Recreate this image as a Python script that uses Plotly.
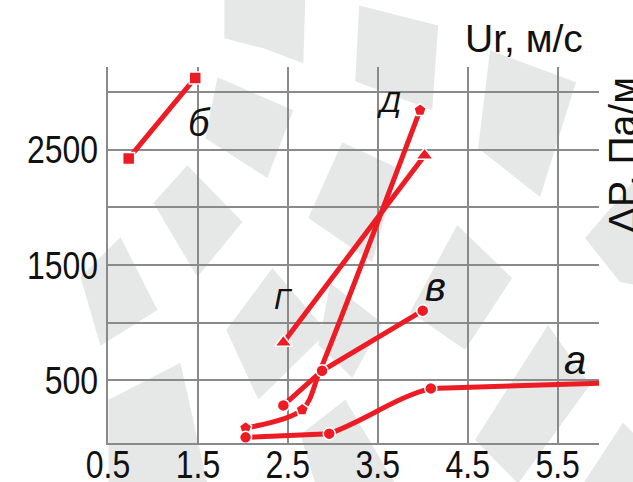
import plotly.graph_objects as go

# ---- data ---------------------------------------------------------------
# velocity Ur, m/s  vs  pressure loss dP, Pa/m for five regimes
a_x = [2.03, 2.96, 4.09, 5.97]
a_y = [7, 39, 431, 477]

b_x = [0.73, 1.47]
b_y = [2424, 3121]

v_x = [2.45, 2.88, 4.00]
v_y = [284, 584, 1105]

g_x = [2.45, 4.02]
g_y = [829, 2450]

d_x = [2.03, 2.66, 2.86, 3.97]
d_y = [88, 247, 590, 2842]

curve_names = ["а", "б", "в", "Г", "Д"]
name_size = [40, 38, 40, 30, 30]
name_x = [5.69, 1.52, 4.14, 2.45, 3.62]
name_y = [679, 2727, 1313, 1213, 2913]

x_ticks = [0.5, 1.5, 2.5, 3.5, 4.5, 5.5]
x_ticktext = ["0.5", "1.5", "2.5", "3.5", "4.5", "5.5"]
y_ticks = [500, 1000, 1500, 2000, 2500, 3000]
y_ticktext = ["500", "", "1500", "", "2500", ""]

x_title = "Ur, м/с"
y_title = "ΔP, Па/м"

# ---- style --------------------------------------------------------------
RED = "#ED1C24"
GRID = "#8a8a8a"
SHADE = "#e6e7e7"
LINE_W = 5
W_FIG, H_FIG = 633, 482
ML, MR, MT, MB = 107.5, 34, 66.7, 38.7
PW, PH = W_FIG - ML - MR, H_FIG - MT - MB

TICK_FONT = dict(family="Liberation Sans, Arial", size=39, color="#111")
TITLE_FONT = dict(family="Liberation Sans, Arial", size=39, color="#111")

fig = go.Figure()


def add_series(xs, ys, symbol, size, mode="lines+markers", shape="linear",
               smooth=1.0, opac=None):
    fig.add_trace(go.Scatter(
        x=xs, y=ys, mode=mode,
        line=dict(color=RED, width=LINE_W, shape=shape, smoothing=smooth),
        marker=dict(symbol=symbol, size=size, color=RED,
                    opacity=opac if opac is not None else 1,
                    line=dict(color="white", width=1.5)),
        showlegend=False, cliponaxis=False,
    ))


# curve a: flat start, S-shaped rise between the 2nd and 3rd points,
# then a straight run (cubic handles taken from the neighbouring points)
dx, dy = a_x[2] - a_x[1], a_y[2] - a_y[1]
c1 = (a_x[1] + 0.35 * dx, a_y[1] + 0.28 * dy)
c2 = (a_x[2] - 0.35 * dx, a_y[2] - 0.20 * dy)
a_path = (f"M {a_x[0]},{a_y[0]} L {a_x[1]},{a_y[1]} "
          f"C {c1[0]},{c1[1]} {c2[0]},{c2[1]} {a_x[2]},{a_y[2]} "
          f"L {a_x[3]},{a_y[3]}")
fig.add_shape(type="path", path=a_path, xref="x", yref="y",
              line=dict(color=RED, width=LINE_W), layer="between")

add_series(d_x, d_y, "pentagon", 13, shape="spline", smooth=0.9, opac=[1, 1, 0, 1])
add_series(g_x, g_y, "triangle-up", 15)
add_series(a_x, a_y, "circle", 12, mode="markers")
add_series(v_x, v_y, "circle", 12)
add_series(b_x, b_y, "square", 12)

for t, s, x, y in zip(curve_names, name_size, name_x, name_y):
    fig.add_annotation(x=x, y=y, text=t, showarrow=False,
                       font=dict(family="Liberation Sans, Arial", size=s,
                                 color="#111", style="italic"),
                       xanchor="center", yanchor="middle")


def px_to_paper(px, py):
    return (px - ML) / PW, (MT + PH - py) / PH


tx, ty = px_to_paper(524, 38)
fig.add_annotation(x=tx, y=ty, xref="paper", yref="paper", text=x_title,
                   showarrow=False, font=TITLE_FONT,
                   xanchor="center", yanchor="middle")
tx, ty = px_to_paper(622, 155)
fig.add_annotation(x=tx, y=ty, xref="paper", yref="paper", text=y_title,
                   showarrow=False, font=TITLE_FONT, textangle=-90,
                   xanchor="center", yanchor="middle")

# ---- light background pattern (pixel outlines -> paper coordinates) -----
pattern = [
    [(224, -2), (305, -2), (303, 63), (263, 48), (224, 38)],
    [(359, 5), (438, 25), (432, 110), (355, 81)],
    [(490, 50), (576, 82), (540, 197), (478, 148)],
    [(217, 77), (293, 110), (267, 178), (205, 138)],
    [(153, 203), (187, 165), (242, 222), (197, 277)],
    [(80, 277), (120, 237), (157, 310), (100, 346)],
    [(308, 218), (342, 142), (398, 168), (372, 262)],
    [(226, 330), (272, 268), (327, 332), (258, 400)],
    [(410, 312), (457, 225), (512, 278), (465, 350)],
    [(585, 238), (635, 180), (635, 285), (620, 282)],
    [(108, 400), (180, 363), (207, 484), (108, 484)],
    [(330, 283), (382, 323), (352, 378), (318, 345)],
    [(300, 435), (345, 400), (395, 484), (315, 484)],
    [(475, 440), (548, 325), (590, 385), (518, 484)],
    [(583, 484), (623, 423), (635, 435), (635, 484)],
]
for poly in pattern:
    pts = [px_to_paper(px, py) for px, py in poly]
    path = "M " + " L ".join(f"{x:.4f},{y:.4f}" for x, y in pts) + " Z"
    fig.add_shape(type="path", path=path, xref="paper", yref="paper",
                  fillcolor=SHADE, line=dict(width=0), layer="below")

axis_common = dict(showgrid=True, gridcolor=GRID, gridwidth=2.2,
                   showline=True, linecolor=GRID, linewidth=2.2,
                   zeroline=False, ticks="", ticklen=0, tickfont=TICK_FONT,
                   automargin=False)

fig.update_xaxes(range=[0.5, 5.96], tickvals=x_ticks, ticktext=x_ticktext,
                 ticklabelstandoff=-14, **axis_common)
fig.update_yaxes(range=[-42, 3216], tickvals=y_ticks, ticktext=y_ticktext,
                 **axis_common)

fig.update_layout(
    template="none",
    width=W_FIG, height=H_FIG, autosize=False,
    margin=dict(l=ML, r=MR, t=MT, b=MB, pad=0),
    paper_bgcolor="white", plot_bgcolor="rgba(0,0,0,0)",
    font=dict(family="Liberation Sans, Arial", color="#111"),
)

# tick numerals are set in a narrow face: squeeze them horizontally
squeeze_ticks = """
var gd = document.getElementById('{plot_id}');
gd.querySelectorAll('g.xtick text, g.ytick text').forEach(function (t) {
    var w = t.getComputedTextLength();
    if (w > 0) {
        t.setAttribute('textLength', (w * 0.82).toFixed(1));
        t.setAttribute('lengthAdjust', 'spacingAndGlyphs');
    }
});
"""

fig.write_html("out.html", post_script=squeeze_ticks)
